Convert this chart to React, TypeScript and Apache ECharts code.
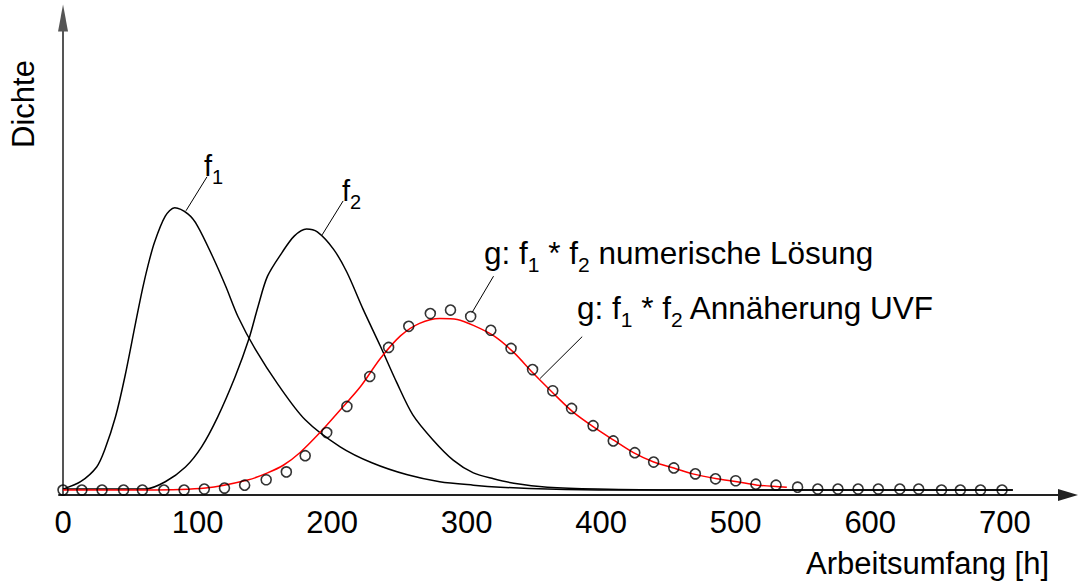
import React, { useEffect, useRef } from "react";
import * as echarts from "echarts";

const FONT = "'Liberation Sans', Arial, Helvetica, sans-serif";

const xTicks = [0, 100, 200, 300, 400, 500, 600, 700];

const f1X = [0, 13, 25, 31, 39, 46, 54, 59, 63, 68, 76, 83, 93, 100, 111, 121, 130, 143, 160, 180, 206, 230, 256, 280, 305, 325, 360, 409, 706];
const f1Y = [1.2, 2.7, 5.7, 9.2, 15.9, 24.1, 35.1, 41.8, 46.5, 51.4, 56.7, 58.4, 57.1, 54.7, 48.6, 42.4, 36.3, 29.6, 22.4, 15.3, 9.8, 6.5, 4.1, 2.7, 2.0, 1.6, 1.2, 1.0, 1.0];

const f2X = [0, 61, 76, 91, 103, 115, 128, 138, 145, 152, 163, 172, 181, 189, 201, 211, 223, 236, 248, 260, 275, 290, 305, 320, 335, 360, 397, 459, 706];
const f2Y = [1.2, 1.2, 2.7, 5.7, 9.8, 15.9, 24.1, 31.6, 38.4, 44.5, 49.4, 52.7, 54.1, 53.5, 50.0, 45.3, 37.8, 30.2, 22.9, 16.3, 11.2, 7.1, 4.5, 3.3, 2.4, 1.6, 1.2, 1.0, 1.0];

const uvfX = [0, 61, 106, 138, 152, 164, 176, 191, 206, 221, 236, 251, 265, 280, 293, 305, 320, 335, 349, 364, 379, 394, 409, 424, 439, 454, 468, 486, 501, 516, 538];
const uvfY = [1.0, 1.0, 1.4, 3.1, 4.5, 6.1, 8.6, 12.7, 17.3, 22.0, 27.8, 32.4, 34.9, 35.9, 35.7, 34.5, 32.4, 29.0, 24.9, 20.8, 16.9, 13.9, 11.2, 8.6, 6.7, 5.5, 4.3, 3.3, 2.7, 2.0, 1.6];

const numX = [0, 14, 29, 45, 59, 75, 90, 105, 120, 135, 151, 166, 180, 196, 211, 228, 242, 257, 273, 288, 303, 318, 333, 349, 364, 378, 394, 409, 425, 439, 454, 470, 485, 500, 515, 530, 546, 561, 576, 591, 606, 622, 636, 653, 667, 682, 698];
const numY = [1.0, 1.0, 1.0, 1.0, 1.0, 1.0, 1.0, 1.2, 1.4, 2.0, 3.1, 4.7, 8.0, 12.7, 18.0, 24.1, 30.0, 34.3, 36.9, 37.6, 36.3, 33.5, 29.8, 25.5, 21.2, 17.6, 14.1, 11.0, 8.6, 6.7, 5.5, 4.3, 3.3, 2.9, 2.2, 2.0, 1.6, 1.2, 1.2, 1.2, 1.2, 1.2, 1.2, 1.0, 1.0, 1.0, 1.0];

// leader lines (data coordinates): [x1, y1, x2, y2]
const leaderF1 = [91.4, 57.8, 107, 64.7];
const leaderF2 = [192.6, 52.9, 208.2, 59.8];
const leaderNum = [304, 37.1, 320, 44.5];
const leaderUvf = [354.6, 23.7, 385.9, 32.2];

const zip = (xs: number[], ys: number[]) => xs.map((x, i) => [x, ys[i]]);
const seg = (l: number[]) => [{ coord: [l[0], l[1]] }, { coord: [l[2], l[3]] }];

const richF = {
  m: { fontSize: 29, fontFamily: FONT, color: "#000", lineHeight: 42 },
  s: { fontSize: 20, fontFamily: FONT, color: "#000", lineHeight: 20, verticalAlign: "bottom" },
};
const richG = {
  m: { fontSize: 31.5, fontFamily: FONT, color: "#000", lineHeight: 44 },
  s: { fontSize: 21, fontFamily: FONT, color: "#000", lineHeight: 21, verticalAlign: "bottom" },
};

export default function App() {
  const ref = useRef<HTMLDivElement>(null);
  useEffect(() => {
    if (!ref.current) return;
    const chart = echarts.init(ref.current, null, { renderer: "svg" });
    chart.setOption({
      animation: false,
      backgroundColor: "#fff",
      textStyle: { fontFamily: FONT },
      grid: { left: 59, right: 10, top: 18, bottom: 90, containLabel: false },
      xAxis: {
        type: "value",
        min: -3,
        max: 747,
        splitNumber: 8,
        splitLine: { show: false },
        axisTick: { show: false },
        axisLine: {
          show: true,
          lineStyle: { color: "#222", width: 2 },
          symbol: ["none", "triangle"],
          symbolSize: [12, 20],
        },
        axisLabel: {
          show: true,
          customValues: xTicks,
          fontSize: 31,
          color: "#000",
          fontFamily: FONT,
          margin: 12,
          formatter: (v: number) => (xTicks.indexOf(v) >= 0 ? String(v) : ""),
        },
      },
      yAxis: {
        type: "value",
        min: 0,
        max: 97,
        splitLine: { show: false },
        axisTick: { show: false },
        axisLabel: { show: false },
        axisLine: {
          show: true,
          lineStyle: { color: "#555", width: 2 },
          symbol: ["none", "triangle"],
          symbolSize: [10, 27],
        },
      },
      series: [
        {
          name: "f1",
          type: "line",
          data: zip(f1X, f1Y),
          smooth: 0.3,
          showSymbol: false,
          lineStyle: { color: "#000", width: 1.5 },
          silent: true,
          markLine: {
            silent: true,
            symbol: ["none", "none"],
            label: { show: false },
            lineStyle: { color: "#000", width: 1, type: "solid" },
            data: [seg(leaderF1), seg(leaderF2), seg(leaderNum), seg(leaderUvf)],
          },
        },
        {
          name: "f2",
          type: "line",
          data: zip(f2X, f2Y),
          smooth: 0.3,
          showSymbol: false,
          lineStyle: { color: "#000", width: 1.5 },
          silent: true,
        },
        {
          name: "UVF",
          type: "line",
          data: zip(uvfX, uvfY),
          smooth: 0.3,
          showSymbol: false,
          lineStyle: { color: "#ff0000", width: 1.5 },
          silent: true,
        },
        {
          name: "numerisch",
          type: "scatter",
          data: zip(numX, numY),
          symbol: "circle",
          symbolSize: 10,
          itemStyle: { color: "rgba(0,0,0,0)", borderColor: "#000", borderWidth: 1.6 },
          silent: true,
          z: 5,
        },
      ],
      graphic: [
        {
          type: "text",
          x: 23,
          y: 104,
          rotation: Math.PI / 2,
          style: { text: "Dichte", font: `31px ${FONT}`, fill: "#000", align: "center", verticalAlign: "middle" },
        },
        {
          type: "text",
          x: 1049,
          y: 563,
          style: { text: "Arbeitsumfang [h]", font: `31px ${FONT}`, fill: "#000", align: "right", verticalAlign: "middle" },
        },
        {
          type: "text",
          x: 204,
          y: 145,
          style: { text: "{m|f}{s|1}", rich: richF, align: "left", verticalAlign: "top" },
        },
        {
          type: "text",
          x: 342,
          y: 170,
          style: { text: "{m|f}{s|2}", rich: richF, align: "left", verticalAlign: "top" },
        },
        {
          type: "text",
          x: 484,
          y: 231,
          style: { text: "{m|g: f}{s|1}{m| * f}{s|2}{m| numerische Lösung}", rich: richG, align: "left", verticalAlign: "top" },
        },
        {
          type: "text",
          x: 577,
          y: 286,
          style: { text: "{m|g: f}{s|1}{m| * f}{s|2}{m| Annäherung UVF}", rich: richG, align: "left", verticalAlign: "top" },
        },
      ],
    });
    return () => chart.dispose();
  }, []);
  return <div ref={ref} style={{ position: "absolute", left: 0, top: 0, width: 1078, height: 585 }} />;
}
